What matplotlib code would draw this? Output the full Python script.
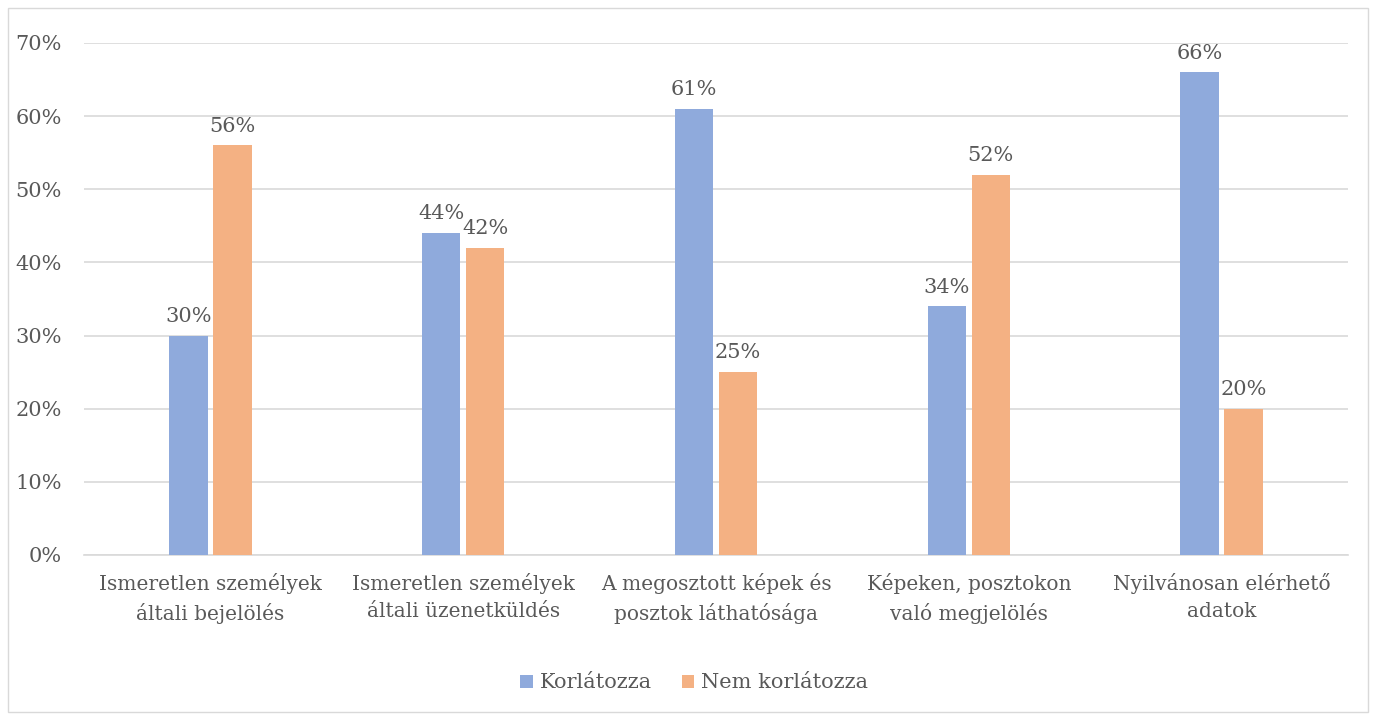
import matplotlib.pyplot as plt
from matplotlib.patches import Rectangle
import numpy as np

# adatok
kategoriak = [
    "Ismeretlen személyek\náltali bejelölés",
    "Ismeretlen személyek\náltali üzenetküldés",
    "A megosztott képek és\nposztok láthatósága",
    "Képeken, posztokon\nvaló megjelölés",
    "Nyilvánosan elérhető\nadatok",
]
korlatozza = [30, 44, 61, 34, 66]
nem_korlatozza = [56, 42, 25, 52, 20]
sorozatok = ["Korlátozza", "Nem korlátozza"]

KEK = "#8FAADC"
NARANCS = "#F4B183"
SZURKE = "#595959"
RACS = "#D9D9D9"

plt.rcParams['font.family'] = ['DejaVu Serif']

fig = plt.figure(figsize=(13.75, 7.15), dpi=100)
ax = fig.add_axes([84 / 1375, 1 - 555 / 715, (1348 - 84) / 1375, (555 - 43) / 715])

# keret a teljes ábra körül
fig.patches.append(Rectangle((8 / 1375, 3 / 715), 1360 / 1375, 704 / 715,
                             transform=fig.transFigure, fill=False,
                             edgecolor=RACS, linewidth=1))

x = np.arange(len(kategoriak))
w = 0.152
d = 0.087
b1 = ax.bar(x - d, korlatozza, w, color=KEK, label=sorozatok[0], zorder=3)
b2 = ax.bar(x + d, nem_korlatozza, w, color=NARANCS, label=sorozatok[1], zorder=3)

for bars, vals in ((b1, korlatozza), (b2, nem_korlatozza)):
    for r, v in zip(bars, vals):
        ax.annotate(f"{v}%", (r.get_x() + r.get_width() / 2, v),
                    xytext=(0, 7), textcoords="offset points",
                    ha="center", va="bottom", fontsize=15, color=SZURKE)

ax.set_xlim(-0.5, len(kategoriak) - 0.5)
ax.set_ylim(0, 70)
ax.set_yticks(range(0, 71, 10))
ax.set_yticklabels([f"{t}%" for t in range(0, 71, 10)])
ax.set_xticks(x)
ax.set_xticklabels(kategoriak, linespacing=1.5)
ax.tick_params(axis="y", length=0, pad=16, labelsize=15, labelcolor=SZURKE)
ax.tick_params(axis="x", length=0, pad=13, labelsize=14.5, labelcolor=SZURKE)
ax.grid(axis="y", color=RACS, linewidth=1.2, zorder=0)
for s in ("top", "right", "left"):
    ax.spines[s].set_visible(False)
ax.spines["bottom"].set_color(RACS)
ax.spines["bottom"].set_linewidth(1.2)

leg = fig.legend(handles=[b1, b2], loc="center", bbox_to_anchor=(0.505, 1 - 683 / 715),
                 ncol=2, frameon=False, fontsize=15, handlelength=0.6, handleheight=0.6,
                 handletextpad=0.35, columnspacing=1.4)
for t in leg.get_texts():
    t.set_color(SZURKE)

fig.savefig("out.png", dpi=100)
